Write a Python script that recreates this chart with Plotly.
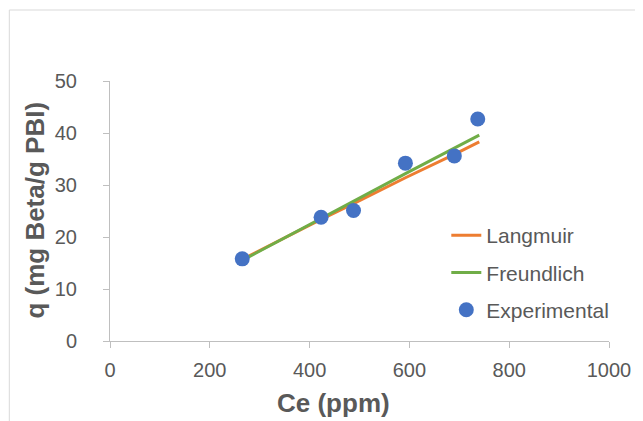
import plotly.graph_objects as go

ce_exp = [265, 423, 488, 592, 690, 737]
q_exp = [15.8, 23.8, 25.1, 34.2, 35.6, 42.7]

ce_fit = [265, 423, 488, 592, 690, 740]
q_langmuir = [15.7, 23.4, 26.4, 31.4, 35.9, 38.3]
q_freundlich = [15.5, 23.6, 26.9, 32.2, 37.1, 39.6]

x_title = "Ce (ppm)"
y_title = "q (mg Beta/g PBI)"

OFF = 8  # page body margin
W, H = 643 - OFF, 421 - OFF
ml, mr, mt, mb = 110 - OFF, 30, 81 - OFF, 80
pw, ph = W - ml - mr, H - mt - mb

FONT = "Liberation Sans, Arial"
GREY = "#595959"

fig = go.Figure()
fig.add_trace(go.Scatter(x=ce_fit, y=q_langmuir, mode="lines", name="Langmuir",
                         line=dict(color="#ED7D31", width=3), legendgroup="a"))
fig.add_trace(go.Scatter(x=ce_fit, y=q_freundlich, mode="lines", name="Freundlich",
                         line=dict(color="#70AD47", width=3), legendgroup="b"))
fig.add_trace(go.Scatter(x=ce_exp, y=q_exp, mode="markers", name="Experimental",
                         marker=dict(color="#4472C4", size=15), legendgroup="c"))

def px_x(p):  # page pixel -> paper
    return (p - OFF - ml) / pw

def px_y(p):
    return (OFF + mt + ph - p) / ph

fig.add_shape(type="rect", xref="paper", yref="paper",
              x0=px_x(8.5), x1=px_x(700), y0=px_y(470), y1=px_y(10),
              line=dict(color="#D9D9D9", width=1), fillcolor="rgba(0,0,0,0)", layer="below")

fig.add_annotation(text="<b>" + x_title + "</b>", xref="paper", yref="paper",
                   x=px_x(335), y=px_y(403), xanchor="center", yanchor="middle",
                   showarrow=False, font=dict(family=FONT, size=26, color=GREY))
fig.add_annotation(text="<b>" + y_title + "</b>", xref="paper", yref="paper",
                   x=px_x(34), y=px_y(210), xanchor="center", yanchor="middle",
                   textangle=-90, showarrow=False,
                   font=dict(family=FONT, size=26, color=GREY))

axis_common = dict(showgrid=False, zeroline=False, showline=True, linecolor="#BFBFBF",
                   linewidth=1, ticks="outside", tickcolor="#BFBFBF", ticklen=6,
                   tickfont=dict(family=FONT, size=20, color=GREY))

fig.update_layout(
    width=W, height=H,
    margin=dict(l=ml, r=mr, t=mt, b=mb),
    paper_bgcolor="white", plot_bgcolor="white",
    xaxis=dict(range=[0, 1000], dtick=200, ticklabelstandoff=5, **axis_common),
    yaxis=dict(range=[0, 50], dtick=10, ticklabelstandoff=22, **axis_common),
    legend=dict(x=px_x(449), y=px_y(215), xanchor="left", yanchor="top",
                font=dict(family=FONT, size=21, color=GREY),
                tracegroupgap=7, bgcolor="rgba(0,0,0,0)"),
    showlegend=True,
)

fig.write_html("out.html")
